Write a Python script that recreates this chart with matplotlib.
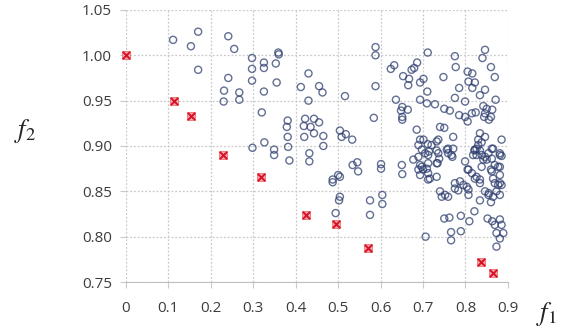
import matplotlib
matplotlib.use("Agg")
import matplotlib.pyplot as plt

plt.rcParams.update({
    "font.family": "Open Sans", "font.size": 10,
    "mathtext.fontset": "stix",
})

# ── Datos: frente de Pareto (rojo) y población (círculos azules) ─────────
front_f1 = [0.0, 0.112, 0.154, 0.229, 0.319, 0.424, 0.495, 0.571, 0.836, 0.864]
front_f2 = [1.000, 0.950, 0.933, 0.890, 0.866, 0.824, 0.814, 0.788, 0.772, 0.760]

pop_left = [
    (0.111, 1.017), (0.170, 1.026), (0.153, 1.010), (0.241, 1.021), (0.255, 1.007),
    (0.170, 0.984), (0.241, 0.975), (0.231, 0.961), (0.230, 0.949), (0.267, 0.959),
    (0.267, 0.951), (0.297, 0.997), (0.297, 0.985), (0.297, 0.972), (0.298, 0.898),
]

pop_mid = [
    (0.320, 0.937), (0.325, 0.992), (0.325, 0.986), (0.359, 1.003), (0.360, 1.001),
    (0.353, 0.991), (0.355, 0.970), (0.325, 0.960), (0.430, 0.980), (0.412, 0.965),
    (0.455, 0.966), (0.463, 0.959), (0.430, 0.950), (0.516, 0.955), (0.588, 1.009),
    (0.588, 1.000), (0.588, 0.966), (0.584, 0.931), (0.381, 0.928), (0.379, 0.921),
    (0.422, 0.930), (0.443, 0.930), (0.455, 0.926), (0.419, 0.922), (0.435, 0.921),
    (0.443, 0.914), (0.420, 0.910), (0.465, 0.911), (0.381, 0.910), (0.382, 0.899),
    (0.465, 0.900), (0.504, 0.917), (0.518, 0.913), (0.508, 0.910), (0.533, 0.907),
    (0.326, 0.904), (0.349, 0.896), (0.349, 0.890), (0.385, 0.884), (0.432, 0.892),
    (0.432, 0.883), (0.487, 0.863), (0.487, 0.860), (0.500, 0.868), (0.504, 0.866),
    (0.504, 0.844), (0.502, 0.840), (0.494, 0.826), (0.534, 0.879), (0.545, 0.882),
    (0.547, 0.872), (0.575, 0.840), (0.575, 0.824), (0.601, 0.880), (0.601, 0.875),
    (0.604, 0.846), (0.604, 0.836), (0.650, 0.879), (0.651, 0.869),
]

pop_right_top = [
    (0.711, 1.003), (0.775, 0.999), (0.777, 0.987), (0.846, 1.006), (0.840, 0.997),
    (0.860, 0.987), (0.869, 0.976), (0.686, 0.992), (0.673, 0.984), (0.679, 0.986),
    (0.632, 0.989), (0.624, 0.985), (0.653, 0.977), (0.667, 0.974), (0.665, 0.967),
    (0.693, 0.970), (0.701, 0.974), (0.748, 0.976), (0.710, 0.960), (0.805, 0.982),
    (0.816, 0.980), (0.807, 0.971), (0.822, 0.970), (0.816, 0.964), (0.785, 0.964),
    (0.846, 0.962), (0.834, 0.956), (0.636, 0.951), (0.651, 0.943), (0.664, 0.940),
    (0.648, 0.939), (0.651, 0.932), (0.651, 0.929), (0.693, 0.951), (0.709, 0.947),
    (0.728, 0.946), (0.750, 0.941), (0.763, 0.939), (0.775, 0.953), (0.799, 0.949),
    (0.785, 0.934), (0.799, 0.932), (0.815, 0.936), (0.805, 0.927), (0.824, 0.937),
    (0.842, 0.944), (0.850, 0.941), (0.863, 0.940), (0.844, 0.932), (0.855, 0.929),
    (0.860, 0.932), (0.871, 0.951), (0.846, 0.936), (0.685, 0.918), (0.740, 0.921),
    (0.750, 0.920), (0.771, 0.910), (0.693, 0.907), (0.701, 0.907), (0.689, 0.901),
    (0.711, 0.902), (0.720, 0.901), (0.732, 0.905), (0.736, 0.907), (0.714, 0.894),
    (0.732, 0.895), (0.756, 0.896), (0.771, 0.897), (0.834, 0.914), (0.846, 0.910),
    (0.830, 0.907), (0.838, 0.904), (0.826, 0.897), (0.834, 0.895), (0.821, 0.895),
    (0.862, 0.897), (0.885, 0.907), (0.881, 0.892), (0.830, 0.901), (0.865, 0.897),
]

pop_right_low = [
    (0.697, 0.896), (0.689, 0.888), (0.693, 0.879), (0.705, 0.892), (0.712, 0.890),
    (0.712, 0.881), (0.736, 0.892), (0.738, 0.886), (0.732, 0.881), (0.759, 0.897),
    (0.769, 0.888), (0.759, 0.892), (0.677, 0.885), (0.697, 0.877), (0.709, 0.875),
    (0.689, 0.874), (0.700, 0.874), (0.693, 0.868), (0.712, 0.870), (0.716, 0.864),
    (0.732, 0.866), (0.712, 0.863), (0.734, 0.881), (0.767, 0.890), (0.799, 0.883),
    (0.807, 0.874), (0.815, 0.870), (0.775, 0.859), (0.787, 0.861), (0.795, 0.857),
    (0.803, 0.855), (0.783, 0.851), (0.807, 0.846), (0.775, 0.853), (0.807, 0.852),
    (0.826, 0.866), (0.834, 0.863), (0.740, 0.850), (0.752, 0.846), (0.759, 0.844),
    (0.744, 0.844), (0.822, 0.896), (0.826, 0.890), (0.838, 0.890), (0.846, 0.888),
    (0.854, 0.892), (0.850, 0.885), (0.842, 0.885), (0.818, 0.890), (0.862, 0.886),
    (0.881, 0.890), (0.885, 0.889), (0.869, 0.879), (0.862, 0.872), (0.865, 0.864),
    (0.869, 0.859), (0.873, 0.850), (0.881, 0.846), (0.877, 0.857), (0.885, 0.857),
    (0.854, 0.846), (0.860, 0.838), (0.865, 0.844), (0.834, 0.840), (0.881, 0.877),
    (0.881, 0.868), (0.838, 0.877), (0.860, 0.874), (0.877, 0.877), (0.822, 0.864),
    (0.834, 0.859), (0.846, 0.850), (0.855, 0.848), (0.881, 0.859), (0.805, 0.874),
    (0.750, 0.820), (0.762, 0.821), (0.789, 0.823), (0.809, 0.817), (0.821, 0.828),
    (0.852, 0.820), (0.863, 0.817), (0.881, 0.819), (0.885, 0.813), (0.873, 0.804),
    (0.889, 0.804), (0.881, 0.798), (0.873, 0.789), (0.869, 0.813), (0.706, 0.800),
    (0.766, 0.805), (0.766, 0.796), (0.789, 0.806),
]

x_ticks = [0, 0.1, 0.2, 0.3, 0.4, 0.5, 0.6, 0.7, 0.8, 0.9]
x_labels = ["0", "0.1", "0.2", "0.3", "0.4", "0.5", "0.6", "0.7", "0.8", "0.9"]
y_ticks = [0.75, 0.80, 0.85, 0.90, 0.95, 1.00, 1.05]
y_labels = ["0.75", "0.80", "0.85", "0.90", "0.95", "1.00", "1.05"]

GRID = "#c9c9c9"
NAVY = "#2f3f70"
TXT = "#3c3c3c"

fig = plt.figure(figsize=(5.65, 3.31), dpi=100)
ax = fig.add_axes([0.223, 0.148, 0.676, 0.822])

for pts in (pop_left, pop_mid, pop_right_top, pop_right_low):
    px, py = zip(*pts)
    ax.scatter(px, py, s=26, facecolors="none", edgecolors=NAVY,
               linewidths=1.0, alpha=0.75, zorder=3, clip_on=False)

ax.scatter(front_f1, front_f2, s=34, marker="s", facecolors="#f6a8a8",
           edgecolors="#f07070", linewidths=0.6, zorder=4, clip_on=False)
ax.scatter(front_f1, front_f2, s=28, marker="x", color="#d8102a",
           linewidths=1.4, zorder=5, clip_on=False)

ax.set_xlim(0, 0.9)
ax.set_ylim(0.75, 1.05)
ax.set_xticks(x_ticks)
ax.set_xticklabels(x_labels)
ax.set_yticks(y_ticks)
ax.set_yticklabels(y_labels)
ax.grid(True, color=GRID, linestyle=(0, (1.5, 1.5)), linewidth=0.9)
ax.set_axisbelow(True)
for side in ("top", "right", "left"):
    ax.spines[side].set_visible(False)
ax.spines["bottom"].set_color("#bfbfbf")
ax.tick_params(axis="both", colors=GRID, labelcolor=TXT, labelsize=11, length=4)
ax.tick_params(axis="x", pad=10)
ax.tick_params(axis="y", pad=6)

fig.text(0.024, 0.604, r"$f_2$", fontsize=19, color="#222222", ha="left", va="center")
fig.text(0.948, 0.052, r"$f_1$", fontsize=19, color="#222222", ha="left", va="center")

fig.savefig("out.png", dpi=100, facecolor="white")
